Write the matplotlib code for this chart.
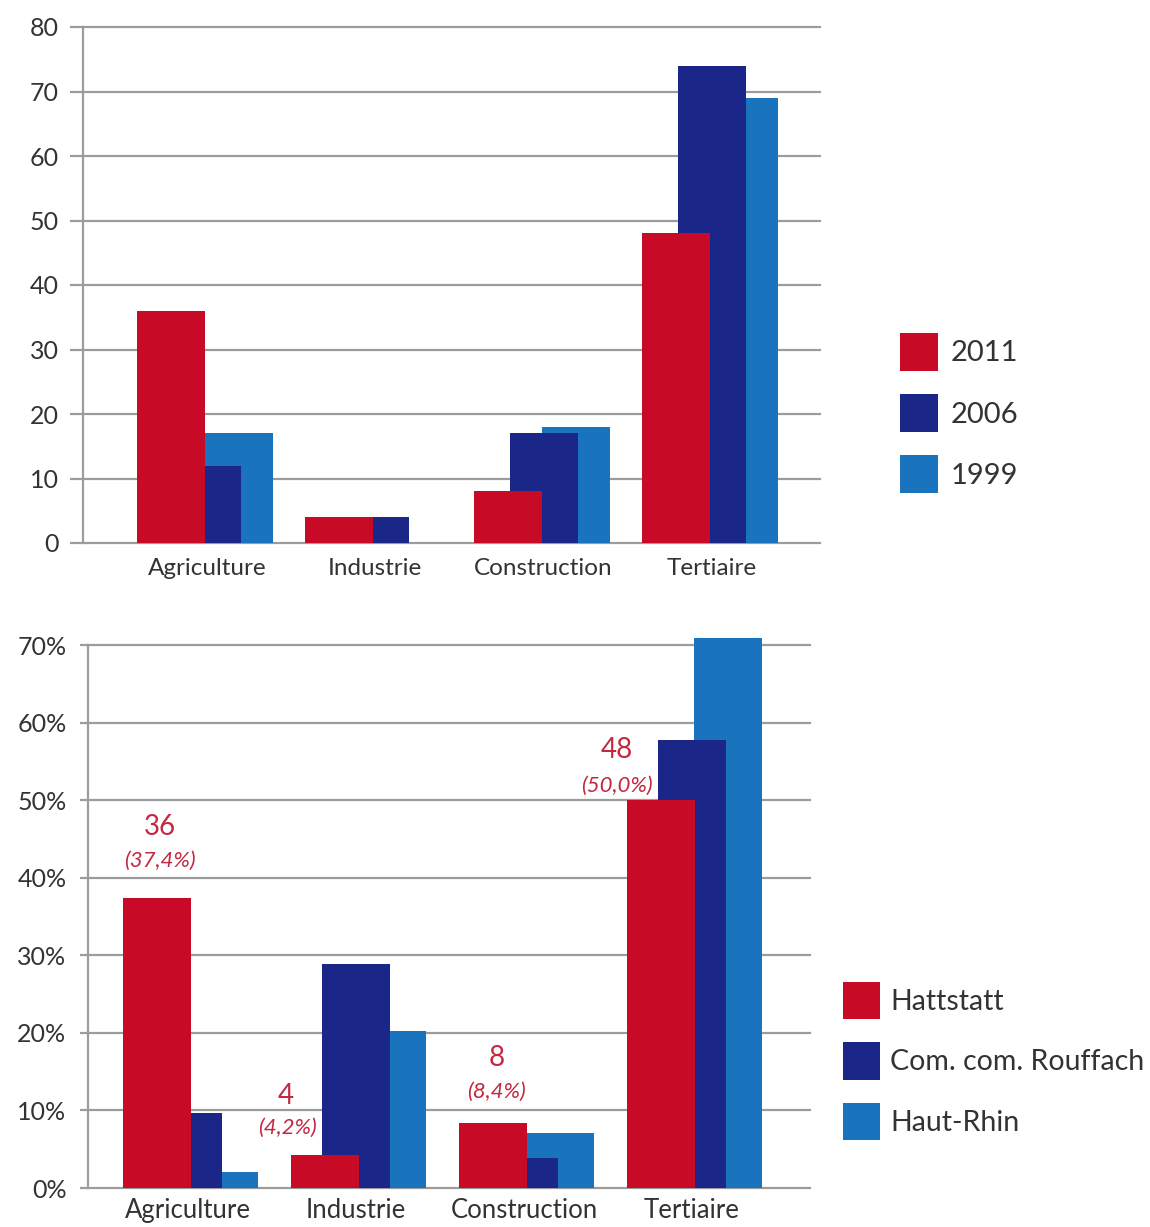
import matplotlib
matplotlib.use("Agg")
import matplotlib.pyplot as plt
import numpy as np

# --- data -------------------------------------------------------------
categories = ["Agriculture", "Industrie", "Construction", "Tertiaire"]

years = ["2011", "2006", "1999"]
jobs_2011 = [36, 4, 8, 48]
jobs_2006 = [12, 4, 17, 74]
jobs_1999 = [17, 0, 18, 69]

zones = ["Hattstatt", "Com. com. Rouffach", "Haut-Rhin"]
share_hattstatt = [37.4, 4.2, 8.4, 50.0]
share_rouffach = [9.7, 28.9, 3.9, 57.8]
share_hautrhin = [2.1, 20.3, 7.1, 70.9]
count_hattstatt = [36, 4, 8, 48]
share_labels = ["(37,4%)", "(4,2%)", "(8,4%)", "(50,0%)"]

top_ticks = [0, 10, 20, 30, 40, 50, 60, 70, 80]
bottom_ticks = [0, 10, 20, 30, 40, 50, 60, 70]

# --- style ------------------------------------------------------------
RED = "#c70a26"
DARK = "#1b2689"
LIGHT = "#1a73bd"
GRID = "#9c9c9c"
TEXT = "#333333"
LABEL_RED = "#c42840"

plt.rcParams["font.family"] = ["Lato", "DejaVu Sans"]

W, H = 1150, 1227
fig = plt.figure(figsize=(W / 100, H / 100), dpi=100)
fig.patch.set_facecolor("white")


def px_axes(left, right, bottom, top):
    return fig.add_axes([left / W, 1 - bottom / H, (right - left) / W, (bottom - top) / H])


def style_axes(ax, ticks, ticklen, pad, fmt):
    ax.set_yticks(ticks)
    ax.set_yticklabels([fmt(t) for t in ticks])
    ax.yaxis.grid(True, color=GRID, linewidth=1.6, zorder=0)
    for gl in ax.get_ygridlines():
        gl.set_clip_on(False)
    ax.set_axisbelow(True)
    for s in ["top", "right", "bottom"]:
        ax.spines[s].set_visible(False)
    ax.spines["left"].set_color(GRID)
    ax.spines["left"].set_linewidth(1.6)
    ax.tick_params(axis="y", length=ticklen, width=1.6, color=GRID,
                   pad=pad, labelsize=18, labelcolor=TEXT)
    ax.tick_params(axis="x", length=0, labelsize=17.5, labelcolor=TEXT)


x = np.arange(len(categories))
bw = 0.404

# --- top chart: jobs by sector and year -------------------------------
ax1 = px_axes(83, 820, 543, 27)
b1999 = ax1.bar(x + 0.19, jobs_1999, bw, color=LIGHT, zorder=2, label=years[2])
b2006 = ax1.bar(x, jobs_2006, bw, color=DARK, zorder=3, label=years[1])
b2011 = ax1.bar(x - 0.214, jobs_2011, bw, color=RED, zorder=4, label=years[0])
ax1.set_xlim(-0.737, 3.642)
ax1.set_ylim(0, 80)
ax1.spines["left"].set_bounds(0, 80)
style_axes(ax1, top_ticks, 9.4, 8, lambda t: f"{t}")
ax1.set_xticks(x)
ax1.set_xticklabels(categories)
ax1.tick_params(axis="x", pad=11)

fig.legend([b2011, b2006, b1999], years, loc="center left",
           bbox_to_anchor=(900 / W, 1 - 413 / H), frameon=False,
           fontsize=21, handlelength=1.3, handleheight=1.65,
           handletextpad=0.45, labelspacing=0.78, borderpad=0,
           borderaxespad=0, labelcolor=TEXT)

# --- bottom chart: sector shares by area ------------------------------
ax2 = px_axes(88, 810, 1188, 1188 - 72 * 7.757)
c_hr = ax2.bar(x + 0.214, share_hautrhin, bw, color=LIGHT, zorder=2)
c_ro = ax2.bar(x, share_rouffach, bw, color=DARK, zorder=3)
c_ha = ax2.bar(x - 0.185, share_hattstatt, bw, color=RED, zorder=4)
ax2.set_xlim(-0.595, 3.702)
ax2.set_ylim(0, 72)
ax2.spines["left"].set_bounds(0, 70)
style_axes(ax2, bottom_ticks, 5.5, 10, lambda t: f"{t}%")
ax2.set_xticks(x)
ax2.set_xticklabels(categories, fontsize=18.5)
ax2.tick_params(axis="x", pad=7)

# value labels for Hattstatt: job count and share
count_offsets = [(3, 71), (-39, 59), (4, 65), (-44, 50)]
share_offsets = [(3, 37), (-37, 28), (3, 31), (-44, 14)]
for i in range(len(categories)):
    xr = x[i] - 0.185
    v = share_hattstatt[i]
    ax2.annotate(str(count_hattstatt[i]), xy=(xr, v), xytext=count_offsets[i],
                 textcoords="offset pixels", ha="center", va="center",
                 fontsize=20, color=LABEL_RED, zorder=6)
    ax2.annotate(share_labels[i], xy=(xr, v), xytext=share_offsets[i],
                 textcoords="offset pixels", ha="center", va="center",
                 fontsize=16, style="italic", color=LABEL_RED, zorder=6)

fig.legend([c_ha, c_ro, c_hr], zones, loc="center left",
           bbox_to_anchor=(843 / W, 1 - 1061 / H), frameon=False,
           fontsize=20.5, handlelength=1.3, handleheight=1.65,
           handletextpad=0.35, labelspacing=0.8, borderpad=0,
           borderaxespad=0, labelcolor=TEXT)

fig.savefig("out.png", dpi=100, facecolor="white")
